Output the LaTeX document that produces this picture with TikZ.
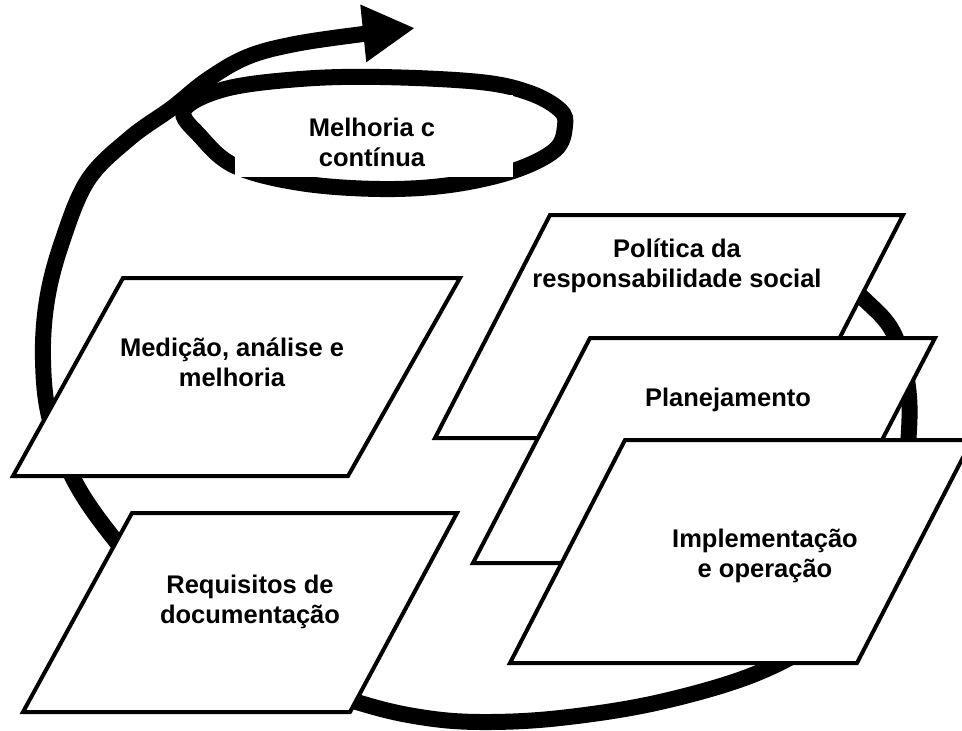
\documentclass[tikz,border=0pt]{standalone}
\usepackage{fontspec}
\setmainfont{Liberation Sans}
\usetikzlibrary{arrows.meta}

\begin{document}
\begin{tikzpicture}[x=1pt,y=-1pt,>={Triangle[length=52pt,width=54pt]},
  espiral/.style={line width=16pt},
  caixa/.style={draw,fill=white,line width=4pt},
  rotulo/.style={font=\fontsize{25.5}{30}\selectfont\bfseries,align=center}]
\useasboundingbox (0,0) rectangle (962,731);

% a volta grande, que acaba na seta
\draw[->,espiral] plot[smooth,tension=0.6] coordinates {(760,238) (820,262) (865,300) (893,332) (907,380) (909,430) (900,500) (875,570) (830,630) (760,672) (660,702) (560,718) (480,722) (420,717) (360,703) (270,672) (180,615) (115,540) (75,482) (50,420) (43,360) (47,300) (62,242) (88,180) (130,138) (172,108) (207,80) (247,57) (295,44) (363,34) (415,28)};
% o laco de cima
\draw[espiral] plot[smooth cycle,tension=0.6] coordinates {(184,110) (225,89) (300,79) (380,77) (480,82) (530,93) (560,110) (565,126) (555,150) (513,171) (450,185) (380,189) (300,183) (235,166) (200,136)};
\node[fill=white,minimum width=278pt,minimum height=82pt,inner sep=0pt] (fundo) at (374,136) {};
\node[rotulo] (melhoria) at (372,142) {Melhoria c\\contínua};

\draw[caixa] (123,278)--(460,278)--(348,476)--(13,476)--cycle;%medicao
\node[rotulo] (medicao) at (232,362) {Medição, análise e\\melhoria};

\draw[caixa] (132,513)--(457,513)--(350,712)--(23,712)--cycle;%requisitos
\node[rotulo] (requisitos) at (250,602) {Requisitos de\\documentação};

\draw[caixa] (550,215)--(903,215)--(788,438)--(435,438)--cycle;%politica
\node[rotulo] (politica) at (677,266) {Política da\\responsabilidade social};

\draw[caixa] (590,338)--(935,338)--(818,563)--(473,563)--cycle;%planejamento
\node[rotulo] (planejamento) at (728,400) {Planejamento};

\draw[caixa] (625,440)--(972,440)--(857,663)--(510,663)--cycle;%implementacao
\node[rotulo] (implementacao) at (765,556) {Implementação\\e operação};

\end{tikzpicture}
\end{document}
